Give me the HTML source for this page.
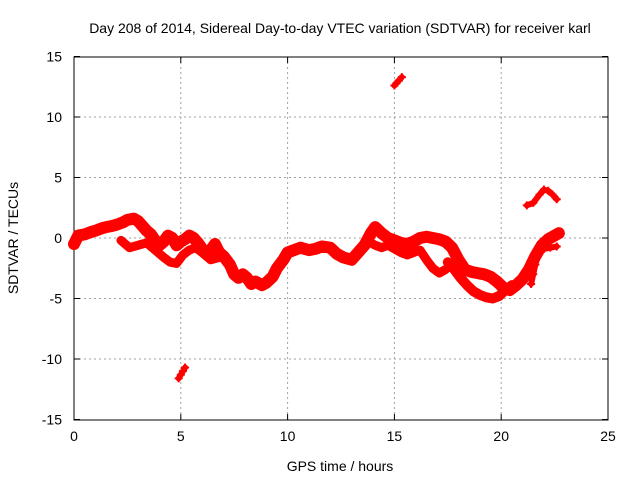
<!DOCTYPE html>
<html><head><meta charset="utf-8"><style>
body{margin:0;background:#fff;font-family:"Liberation Sans",sans-serif}
svg text{font-family:"Liberation Sans",sans-serif;font-size:14px;fill:#000}
</style></head><body>
<svg id="chart" width="640" height="480" viewBox="0 0 640 480">
<rect width="640" height="480" fill="#fff"/>
<text x="340" y="33" text-anchor="middle">Day 208 of 2014, Sidereal Day-to-day VTEC variation (SDTVAR) for receiver karl</text>
<g id="grid"></g>
<g id="axes"></g>
<g id="series"></g>
<text x="340" y="471" text-anchor="middle">GPS time / hours</text>
<text transform="translate(18,238) rotate(-90)" text-anchor="middle">SDTVAR / TECUs</text>
</svg>
<script>
const xTicks=[0,5,10,15,20,25];
const yTicks=[-15,-10,-5,0,5,10,15];
// main trace (upper branch)
const mainT=[0,0.2,0.5,0.8,1,1.3,1.5,1.8,2,2.3,2.5,2.8,3,3.2,3.4,3.6,3.8,4,4.2,4.4,4.6,4.8,5,5.2,5.4,5.6,5.8,6,6.2,6.4,6.6,6.8,7,7.3,7.5,7.7,7.9,8.1,8.3,8.5,8.8,9,9.3,9.5,9.8,10,10.3,10.6,11,11.3,11.6,12,12.3,12.6,13,13.3,13.6,13.9,14.1,14.4,14.7,15,15.3,15.6,15.9,16.2,16.5,16.8,17.1,17.4,17.7,18,18.3,18.6,18.9,19.2,19.5,19.8,20.1,20.4,20.7,21,21.3,21.6,21.9,22.2,22.5,22.7];
const mainV=[-0.5,0.2,0.3,0.5,0.6,0.8,0.9,1.0,1.1,1.3,1.5,1.6,1.4,1.0,0.6,0.3,-0.2,-0.6,-0.3,0.2,0.0,-0.6,-0.3,-0.1,0.2,0.0,-0.4,-0.9,-1.3,-1.0,-0.5,-1.2,-1.5,-2.2,-3.0,-3.3,-3.0,-3.3,-3.8,-3.6,-3.9,-3.7,-3.2,-2.5,-1.8,-1.2,-1.0,-0.8,-1.0,-0.9,-0.7,-0.8,-1.3,-1.6,-1.8,-1.2,-0.6,0.4,0.9,0.4,0.0,-0.2,-0.4,-0.5,-0.3,0.0,0.1,0.0,-0.1,-0.3,-0.8,-1.8,-2.6,-2.8,-2.9,-3.0,-3.2,-3.6,-4.1,-4.3,-3.9,-3.4,-2.6,-1.5,-0.6,-0.1,0.2,0.4];
// lower branches
const lowT=[2.2,2.6,3.0,3.4,3.8,4.2,4.5,4.8,5.1,5.4,5.7,6.0,6.4,6.8];
const lowV=[-0.2,-0.8,-0.6,-0.4,-1.0,-1.6,-2.0,-2.1,-1.4,-1.0,-0.8,-1.2,-1.8,-1.6];
const low2T=[13.8,14.1,14.4,14.7,15.0,15.3,15.6,15.9,16.2,16.5,16.8,17.1,17.4];
const low2V=[-0.3,-0.6,-0.8,-0.6,-0.9,-1.2,-1.4,-1.2,-1.0,-1.8,-2.5,-2.9,-2.6];
const low3T=[17.5,17.8,18.1,18.4,18.7,19.0,19.3,19.6,19.9,20.2,20.5];
const low3V=[-2.0,-2.6,-3.3,-3.9,-4.4,-4.7,-4.9,-5.0,-4.8,-4.3,-3.9];
const low4T=[21.4,21.5,21.6,21.7,22.0,22.3,22.6];
const low4V=[-3.8,-3.0,-2.2,-1.4,-0.9,-0.8,-0.7];
// outlier arcs
const outAT=[4.9,5.0,5.1,5.2];
const outAV=[-11.6,-11.3,-11.0,-10.7];
const outBT=[15.0,15.1,15.2,15.35];
const outBV=[12.6,12.8,13.0,13.3];
const outCT=[21.2,21.5,21.8,22.0,22.2,22.4,22.6];
const outCV=[2.7,2.9,3.6,4.0,3.9,3.6,3.2];

const X=t=>74+t*(534/25), Y=v=>238-v*(181.5/15);
const NS="http://www.w3.org/2000/svg";
const grid=document.getElementById('grid'),axes=document.getElementById('axes'),ser=document.getElementById('series');
function mk(tag,at,p){const e=document.createElementNS(NS,tag);for(const k in at)e.setAttribute(k,at[k]);p.appendChild(e);return e;}
xTicks.forEach(t=>{
 if(t>0&&t<25){const g=mk('line',{x1:X(t),x2:X(t),y1:57,y2:420,stroke:'#a0a0a0','stroke-dasharray':'2,3'},grid);
 
 }
 const l=mk('text',{x:X(t),y:441,'text-anchor':'middle'},axes);l.textContent=t;
 
 
 mk('line',{x1:X(t),x2:X(t),y1:420,y2:414,stroke:'#000'},axes);
 mk('line',{x1:X(t),x2:X(t),y1:57,y2:63,stroke:'#000'},axes);
});
yTicks.forEach(v=>{
 if(v>-15&&v<15){const g=mk('line',{x1:74,x2:608,y1:Y(v),y2:Y(v),stroke:'#a0a0a0','stroke-dasharray':'2,3'},grid);
 
 }
 const l=mk('text',{x:62,y:Y(v)+5,'text-anchor':'end'},axes);l.textContent=v;
 
 
 mk('line',{x1:74,x2:80,y1:Y(v),y2:Y(v),stroke:'#000'},axes);
 mk('line',{x1:602,x2:608,y1:Y(v),y2:Y(v),stroke:'#000'},axes);
});
const fr=mk('rect',{x:74,y:57,width:534,height:363,fill:'none',stroke:'#000'},axes);


function trace(T,V,w){
 const pl=mk('polyline',{points:T.map((t,i)=>X(t)+','+Y(V[i])).join(' '),fill:'none',stroke:'#f00','stroke-width':w,'stroke-linejoin':'round','stroke-linecap':'round'},ser);
 
 
 T.forEach((t,i)=>{const x=X(t),y=Y(V[i]);
  const p=mk('path',{d:`M${x-4},${y}h8M${x},${y-4}v8`,stroke:'#f00','stroke-width':2},ser);
  
  });
}
trace(mainT,mainV,12);trace(lowT,lowV,9);trace(low2T,low2V,9);trace(low3T,low3V,10);trace(low4T,low4V,6);
trace(outAT,outAV,6);trace(outBT,outBV,6);trace(outCT,outCV,6);
</script>
</body></html>
